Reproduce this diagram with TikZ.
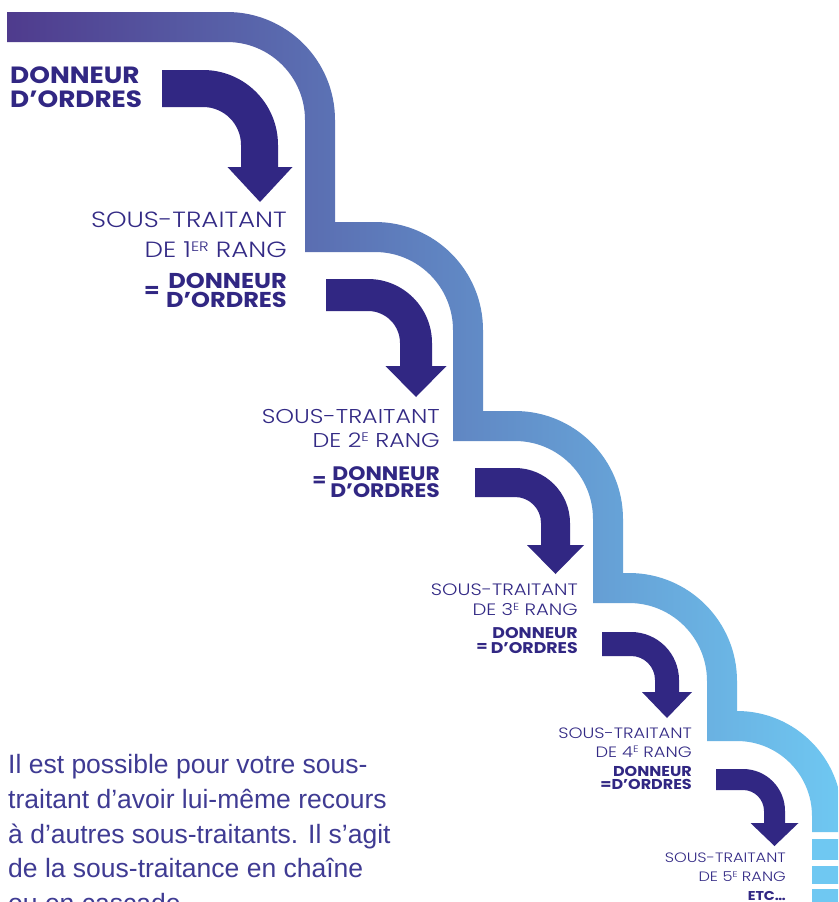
\documentclass[tikz,border=0pt]{standalone}
\usepackage{fontspec}
\usepackage{graphicx}
\setmainfont{Poppins}[FakeStretch=1.12]
\newfontfamily\lightfont{Poppins Light}[FakeStretch=1.19]
\newfontfamily\bodyfont{Liberation Sans}
\definecolor{ink}{HTML}{312783}
\definecolor{inklight}{HTML}{332A85}
\definecolor{bodyink}{HTML}{3F3B93}
\definecolor{gA}{HTML}{4F3B8D}
\definecolor{gB}{HTML}{5987C8}
\definecolor{gC}{HTML}{6FC8F2}
\newcommand{\supx}[1]{\raisebox{0.27em}{\scalebox{0.62}{#1}}}
\begin{document}
\begin{tikzpicture}[x=1pt,y=-1pt,
  lbl/.style={inner sep=0pt, anchor=base east, text=inklight},
  bld/.style={inner sep=0pt, anchor=base east, text=ink},
  eqs/.style={inner sep=0pt, anchor=center, text=ink},
  bodyline/.style={inner sep=0pt, anchor=base west, text=bodyink, font=\bodyfont\fontsize{26.5}{26.5}\selectfont},
  arrowfill/.style={fill=ink, draw=none}]
\useasboundingbox (0,0) rectangle (838,902);
\fill[white] (0,0) rectangle (838,902);
\clip (0,0) rectangle (838,902);

% gradient staircase band
\shade[left color=gA, middle color=gB, right color=gC]
  (7,12) -- (227,12) .. controls (286.65,12) and (335,60.35) .. (335,120)
  -- (335,222) -- (375,222) .. controls (434.65,222) and (483,270.35) .. (483,330)
  -- (483,411) -- (515,411) .. controls (574.65,411) and (623,459.35) .. (623,519)
  -- (623,573) -- (629,573) .. controls (688.65,573) and (737,621.35) .. (737,681)
  -- (737,711) .. controls (795,711) and (842,758) .. (842,816)
  -- (842,832) -- (812,832) -- (812,816)
  .. controls (812,774.58) and (778.42,741) .. (737,741)
  -- (707,741) -- (707,681) .. controls (707,637.92) and (672.08,603) .. (629,603)
  -- (593,603) -- (593,519) .. controls (593,475.92) and (558.08,441) .. (515,441)
  -- (453,441) -- (453,330) .. controls (453,286.92) and (418.08,252) .. (375,252)
  -- (305,252) -- (305,120) .. controls (305,76.92) and (270.08,42) .. (227,42)
  -- (7,42) -- cycle;
\fill[gC] (812,839) rectangle (842,860);
\fill[gC] (812,866) rectangle (842,884);
\fill[gC] (812,889) rectangle (842,905);

% curved arrows
\path[arrowfill] (162,70) -- (203,70) .. controls (244.42,70) and (278,103.58) .. (278,145)
  -- (278,167) -- (292.5,167) -- (260,202) -- (227.5,167) -- (241,167) -- (241,145)
  .. controls (241,124.01) and (223.99,107) .. (203,107) -- (162,107) -- cycle;
\path[arrowfill] (326,279) -- (368,279) .. controls (403.35,279) and (432,307.65) .. (432,343)
  -- (432,366) -- (446.5,366) -- (416,397) -- (385.5,366) -- (400,366) -- (400,343)
  .. controls (400,325.33) and (385.67,311) .. (368,311) -- (326,311) -- cycle;
\path[arrowfill] (475,468) -- (515,468) .. controls (545.38,468) and (570,492.62) .. (570,523)
  -- (570,545) -- (584,545) -- (555.5,574) -- (527,545) -- (541,545) -- (541,523)
  .. controls (541,508.64) and (529.36,497) .. (515,497) -- (475,497) -- cycle;
\path[arrowfill] (602,632) -- (631,632) .. controls (657.51,632) and (679,653.49) .. (679,680)
  -- (679,692) -- (692,692) -- (667,718) -- (642,692) -- (655,692) -- (655,680)
  .. controls (655,666.74) and (644.26,656) .. (631,656) -- (602,656) -- cycle;
\path[arrowfill] (716,769) -- (743,769) .. controls (766.2,769) and (785,787.8) .. (785,811)
  -- (785,823) -- (798.5,823) -- (774.5,846) -- (750.5,823) -- (764,823) -- (764,811)
  .. controls (764,799.4) and (754.6,790) .. (743,790) -- (716,790) -- cycle;

% top label
\node[bld, anchor=base west, font=\bfseries\fontsize{23.5}{23.5}\selectfont] (d0a) at (10,83) {DONNEUR};
\node[bld, anchor=base west, font=\bfseries\fontsize{23.5}{23.5}\selectfont] (d0b) at (10,107) {D’ORDRES};

% rank 1
\node[lbl, font=\lightfont\fontsize{22}{22}\selectfont] (s1a) at (287,227) {SOUS-TRAITANT};
\node[lbl, font=\lightfont\fontsize{22}{22}\selectfont] (s1b) at (287,257) {DE 1\supx{ER} RANG};
\node[bld, font=\bfseries\fontsize{21.5}{21.5}\selectfont] (d1a) at (287,288) {DONNEUR};
\node[bld, font=\bfseries\fontsize{21.5}{21.5}\selectfont] (d1b) at (287,307) {D’ORDRES};
\node[eqs, font=\bfseries\fontsize{20}{20}\selectfont] (e1) at (152,291.5) {=};

% rank 2
\node[lbl, font=\lightfont\fontsize{20}{20}\selectfont] (s2a) at (440,423) {SOUS-TRAITANT};
\node[lbl, font=\lightfont\fontsize{20}{20}\selectfont] (s2b) at (440,447) {DE 2\supx{E} RANG};
\node[bld, font=\bfseries\fontsize{19.5}{19.5}\selectfont] (d2a) at (440,480) {DONNEUR};
\node[bld, font=\bfseries\fontsize{19.5}{19.5}\selectfont] (d2b) at (440,497) {D’ORDRES};
\node[eqs, font=\bfseries\fontsize{18}{18}\selectfont] (e2) at (319.5,482) {=};

% rank 3
\node[lbl, font=\lightfont\fontsize{16.5}{16.5}\selectfont] (s3a) at (578,595) {SOUS-TRAITANT};
\node[lbl, font=\lightfont\fontsize{16.5}{16.5}\selectfont] (s3b) at (578,615) {DE 3\supx{E} RANG};
\node[bld, font=\bfseries\fontsize{15.5}{15.5}\selectfont] (d3a) at (578,638) {DONNEUR};
\node[bld, font=\bfseries\fontsize{15.5}{15.5}\selectfont] (d3b) at (578,653) {D’ORDRES};
\node[eqs, font=\bfseries\fontsize{14.5}{14.5}\selectfont] (e3) at (482,647) {=};

% rank 4
\node[lbl, font=\lightfont\fontsize{15}{15}\selectfont] (s4a) at (692,738) {SOUS-TRAITANT};
\node[lbl, font=\lightfont\fontsize{15}{15}\selectfont] (s4b) at (692,757) {DE 4\supx{E} RANG};
\node[bld, font=\bfseries\fontsize{14.3}{14.3}\selectfont] (d4a) at (692,776) {DONNEUR};
\node[bld, font=\bfseries\fontsize{14.3}{14.3}\selectfont] (d4b) at (692,789) {=D’ORDRES};

% rank 5
\node[lbl, font=\lightfont\fontsize{13.6}{13.6}\selectfont] (s5a) at (786,862) {SOUS-TRAITANT};
\node[lbl, font=\lightfont\fontsize{13.6}{13.6}\selectfont] (s5b) at (786,881) {DE 5\supx{E} RANG};
\node[bld, font=\bfseries\fontsize{12.8}{12.8}\selectfont] (etc) at (786,900) {ETC…};

% body text
\node[bodyline] (t1) at (8,773.3) {Il est possible pour votre sous-};
\node[bodyline] (t2) at (8,808.3) {traitant d’avoir lui-même recours};
\node[bodyline] (t3) at (8,843.3) {à d’autres sous-traitants. Il s’agit};
\node[bodyline] (t4) at (8,877.3) {de la sous-traitance en chaîne};
\node[bodyline] (t5) at (8,912) {ou en cascade.};
\end{tikzpicture}
\end{document}
